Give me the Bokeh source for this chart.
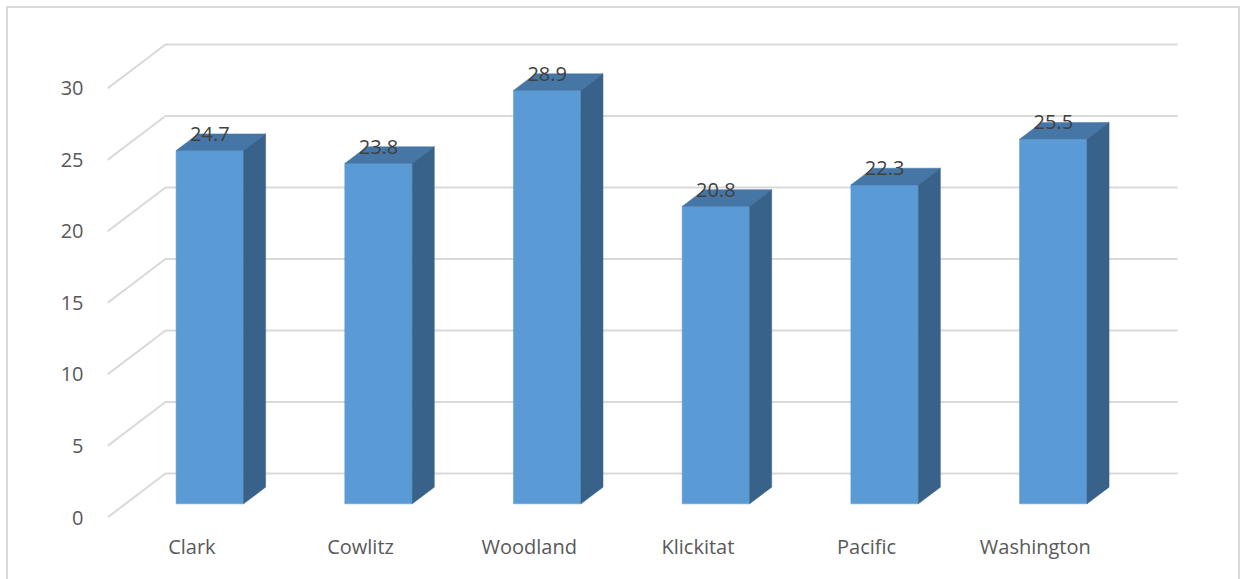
import numpy as np
from bokeh.plotting import figure
from bokeh.models import Range1d, FixedTicker, InlineStyleSheet
from bokeh.core.properties import value
from bokeh.embed import file_html
from bokeh.resources import INLINE

# ---- data ----
categories = ["Clark", "Cowlitz", "Woodland", "Klickitat", "Pacific", "Washington"]
values = [24.7, 23.8, 28.9, 20.8, 22.3, 25.5]
value_labels = ["24.7", "23.8", "28.9", "20.8", "22.3", "25.5"]
y_ticks = [0, 5, 10, 15, 20, 25, 30]

# ---- layout / style ----
W, H = 1244, 579
FL, FR, FT, FB = 107, 1190, 20, 517          # frame edges in pixels
X_END, Y_END = 6.42, 34.75
kx = (FR - FL) / X_END
ky = (FB - FT) / Y_END
DX = 58 / kx          # full depth offset, data units
DY = 44 / ky
F1, F2 = 0.31, 0.69   # bar depth span (fraction of full depth)
BAR_W = 0.4
FONT = "Open Sans"
FRONT, TOP, SIDE = "#5B9BD5", "#4576A6", "#386289"
GRID = "#D9D9D9"

n = len(categories)
idx = np.arange(n)
vals = np.array(values, dtype=float)
centers = idx + 0.5
xl = centers - BAR_W / 2
xr = centers + BAR_W / 2

border_css = InlineStyleSheet(css="""
:host::after {
  content: "";
  position: absolute;
  left: 6px; top: 6px;
  width: 1234px; height: 620px;
  border: 2px solid #D9D9D9;
  box-sizing: border-box;
  pointer-events: none;
}
""")

p = figure(width=W, height=H, output_backend="svg", toolbar_location=None,
           x_range=Range1d(0, X_END), y_range=Range1d(0, Y_END),
           min_border_left=FL, min_border_right=W - FR,
           min_border_top=FT, min_border_bottom=H - FB,
           stylesheets=[border_css])
p.outline_line_color = None
p.xgrid.visible = False
p.ygrid.visible = False
p.background_fill_color = "white"
p.border_fill_color = "white"

# 3D gridlines: diagonal on the left wall, horizontal on the back wall
gxs = [[0, DX, n + DX] for _ in y_ticks]
gys = [[t, t + DY, t + DY] for t in y_ticks]
p.multi_line(gxs, gys, line_color=GRID, line_width=2)

# front faces
p.quad(left=xl + F1 * DX, right=xr + F1 * DX,
       bottom=np.full(n, F1 * DY), top=vals + F1 * DY,
       fill_color=FRONT, line_color=FRONT, line_width=0.5)

# top faces
top_xs = [[a + F1 * DX, b + F1 * DX, b + F2 * DX, a + F2 * DX] for a, b in zip(xl, xr)]
top_ys = [[v + F1 * DY, v + F1 * DY, v + F2 * DY, v + F2 * DY] for v in vals]
p.patches(top_xs, top_ys, fill_color=TOP, line_color=TOP, line_width=0.5)

# side faces
side_xs = [[b + F1 * DX, b + F2 * DX, b + F2 * DX, b + F1 * DX] for b in xr]
side_ys = [[F1 * DY, F2 * DY, v + F2 * DY, v + F1 * DY] for v in vals]
p.patches(side_xs, side_ys, fill_color=SIDE, line_color=SIDE, line_width=0.5)

# value labels
p.text(x=centers + F1 * DX, y=vals + F2 * DY, text=value_labels,
       text_font=value(FONT), text_font_size="20px", text_color="#404040",
       text_align="center", text_baseline="alphabetic")

# axes
ya = p.yaxis[0]
ya.ticker = FixedTicker(ticks=y_ticks)
ya.axis_line_color = None
ya.major_tick_line_color = None
ya.minor_tick_line_color = None
ya.major_tick_in = 0
ya.major_tick_out = 0
ya.major_label_standoff = 24
ya.major_label_text_font = FONT
ya.major_label_text_font_size = "20px"
ya.major_label_text_color = "#595959"

xa = p.xaxis[0]
xa.ticker = FixedTicker(ticks=list(centers))
xa.major_label_overrides = {float(c): name for c, name in zip(centers, categories)}
xa.axis_line_color = None
xa.major_tick_line_color = None
xa.minor_tick_line_color = None
xa.major_tick_in = 0
xa.major_tick_out = 0
xa.major_label_standoff = 15
xa.major_label_text_font = FONT
xa.major_label_text_font_size = "20px"
xa.major_label_text_color = "#595959"

open("out.html", "w").write(file_html(p, INLINE))
